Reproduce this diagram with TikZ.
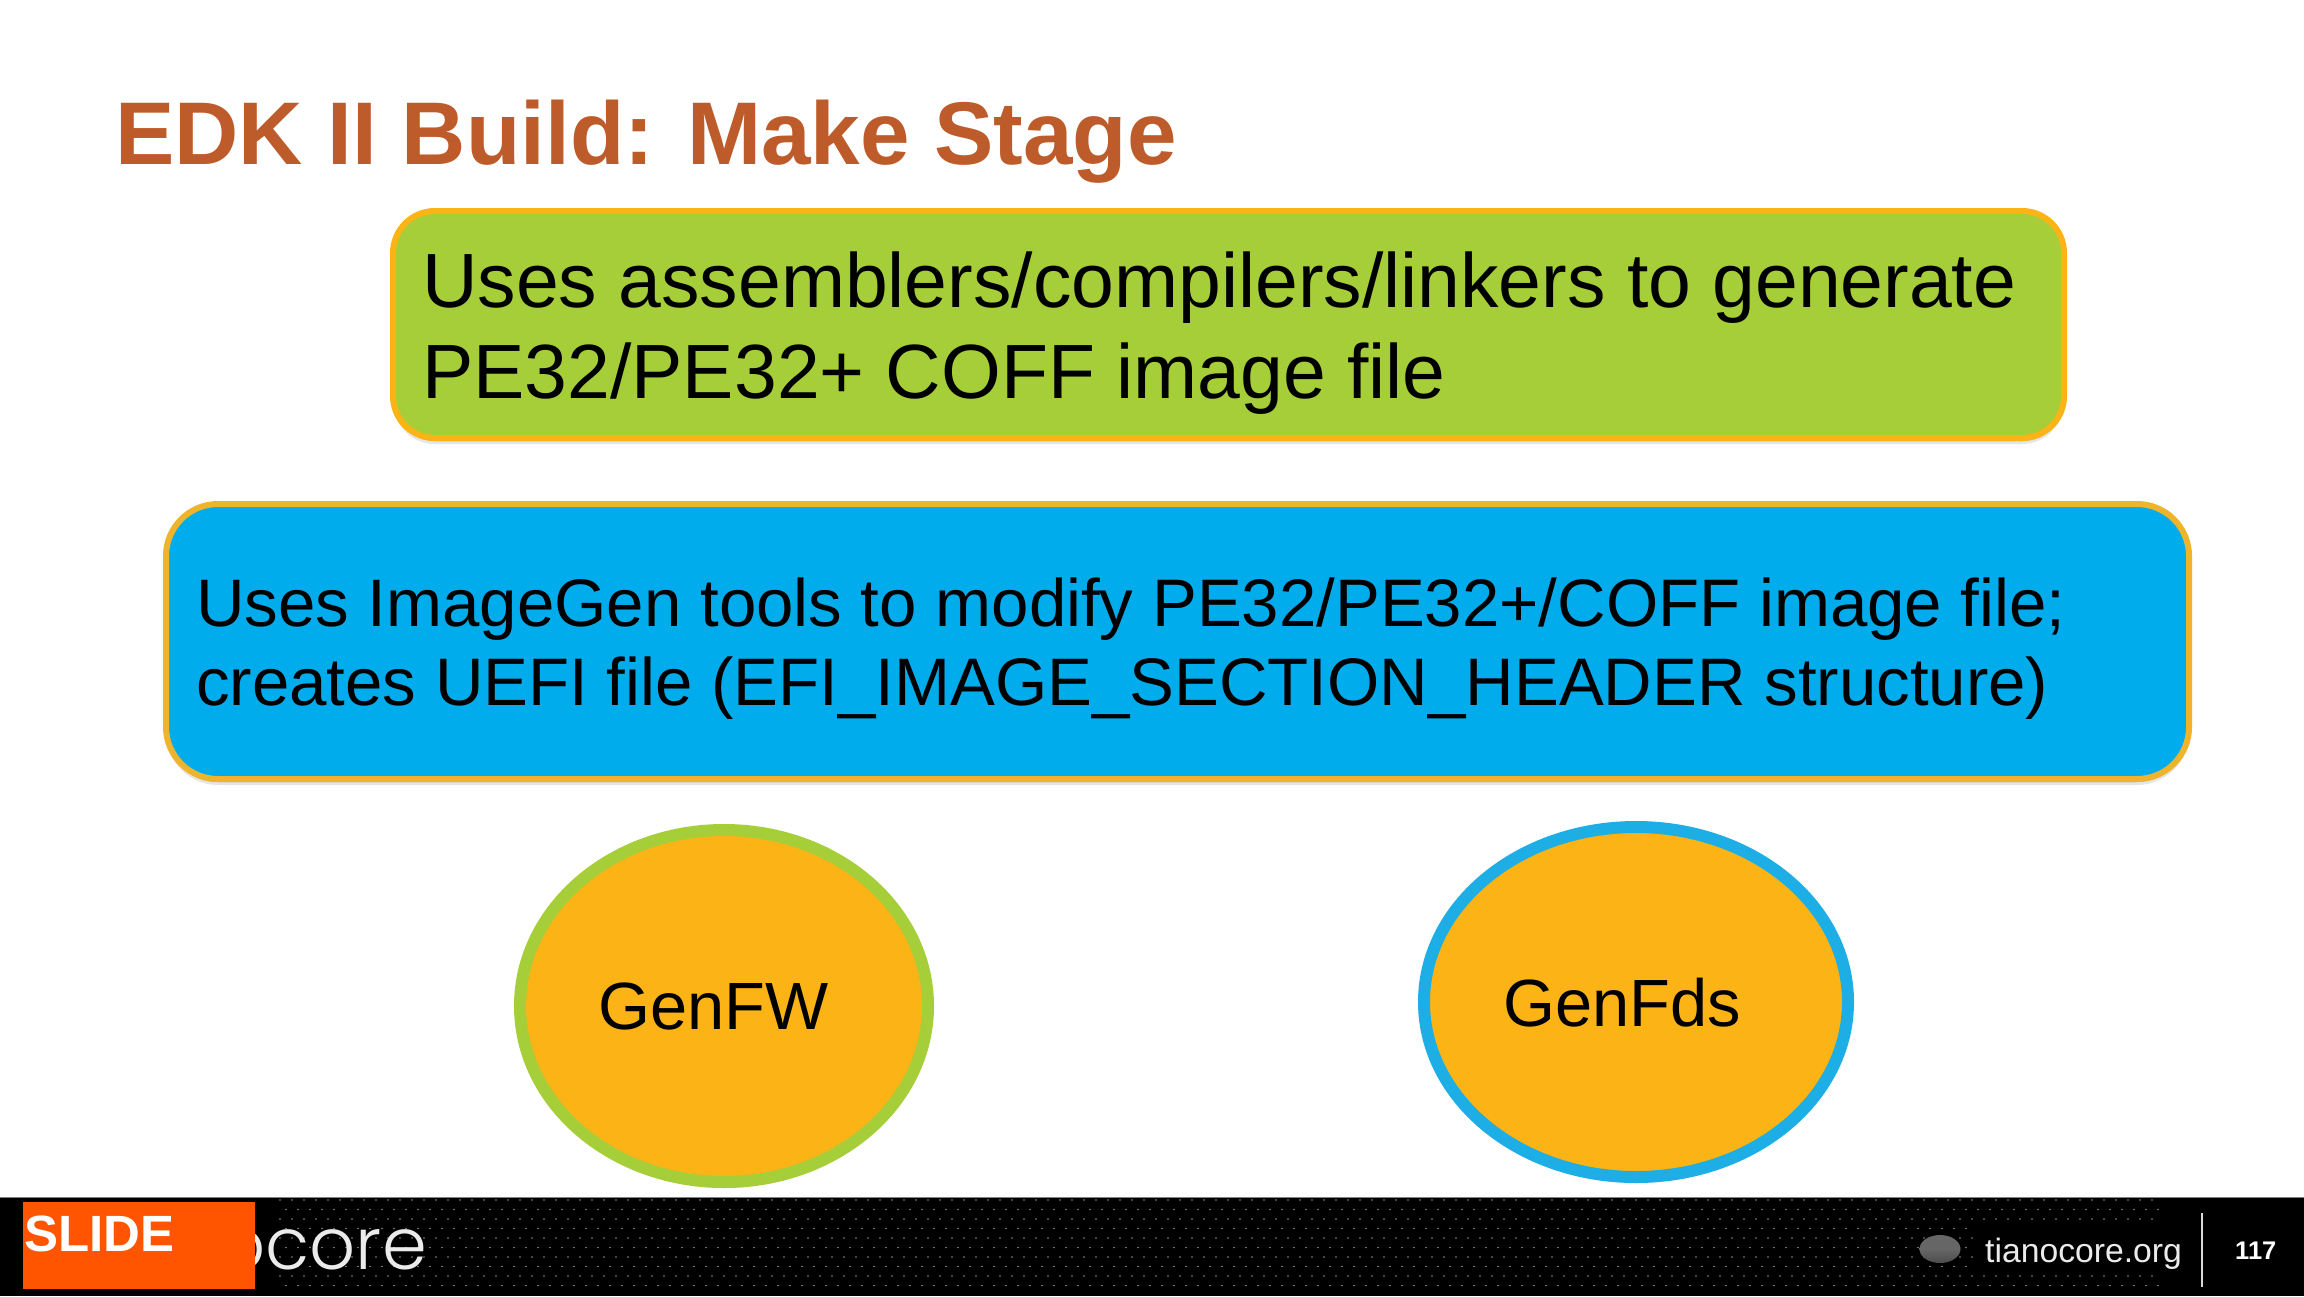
\documentclass[tikz,border=0pt]{standalone}
\usepackage{fontspec}
\usetikzlibrary{shapes.geometric,shadows}
\setmainfont{Liberation Sans}
\newfontfamily\logofont{Poppins Light}
\definecolor{titlecol}{HTML}{BE5B2A}
\definecolor{greenfill}{HTML}{A6CE39}
\definecolor{bluefill}{HTML}{00ACEC}
\definecolor{ambercol}{HTML}{FBB316}
\definecolor{goldedge}{HTML}{EDB42C}
\definecolor{ellipseblue}{HTML}{1CAEE4}
\definecolor{slidecol}{HTML}{FF5500}
\definecolor{dotcol}{HTML}{8A8A8A}
\tikzset{
  softshadow/.style={general shadow={shadow xshift=0pt,shadow yshift=-6pt,opacity=.10,fill=black},
                     general shadow={shadow xshift=0pt,shadow yshift=-3pt,opacity=.25,fill=black}},
  roundbox/.style={shape=rectangle,rounded corners=#1,inner sep=0pt,line width=6pt,softshadow},
  orb/.style={shape=ellipse,inner sep=0pt,fill=ambercol,line width=12pt,softshadow},
  boxtext/.style={inner sep=0pt,align=left,anchor=base west,text=black},
  label/.style={inner sep=0pt,anchor=base west},
}
\begin{document}
\begin{tikzpicture}[x=1pt,y=-1pt]
\useasboundingbox (0,0) rectangle (2304,1296);
\fill[white] (0,0) rectangle (2304,1296);
% title
\node[label,text=titlecol,font={\fontsize{89}{94}\selectfont\bfseries}] (title) at (115,164) {EDK II Build: Make Stage};
% green box
\node[roundbox=42pt,fill=greenfill,draw=ambercol,minimum width=1671pt,minimum height=227pt] (greenbox) at (1228.5,324.5) {};
\node[boxtext,font={\fontsize{76.9}{91}\selectfont}] (greentext) at (422,398)
  {Uses assemblers/compilers/linkers to generate\\PE32/PE32+ COFF image file};
% blue box
\node[roundbox=52pt,fill=bluefill,draw=goldedge,minimum width=2023pt,minimum height=275pt] (bluebox) at (1177.5,641.5) {};
\node[boxtext,font={\fontsize{67.2}{79}\selectfont}] (bluetext) at (196,705)
  {Uses ImageGen tools to modify PE32/PE32+/COFF image file;\\creates UEFI file (EFI\_IMAGE\_SECTION\_HEADER structure)};
% ellipses
\node[orb,draw=greenfill,minimum width=408pt,minimum height=352pt] (fw) at (724,1006) {};
\node[label,font={\fontsize{66.8}{70}\selectfont}] (fwtext) at (598,1029) {GenFW};
\node[orb,draw=ellipseblue,minimum width=424pt,minimum height=350pt] (fds) at (1636,1002) {};
\node[label,font={\fontsize{66.8}{70}\selectfont}] (fdstext) at (1503,1026) {GenFds};
% footer
\fill[black] (0,1197) rectangle (2304,1296);
\draw[gray,line width=1pt] (0,1197) -- (2304,1197);
\foreach \r in {0,...,9}{
  \pgfmathsetmacro{\yy}{1200+\r*9.5}
  \pgfmathsetmacro{\xo}{mod(\r,2)*6}
  \foreach \c in {0,...,156}{
    \fill[dotcol] ({280+\xo+\c*12},\yy) circle (.9pt);
  }
}
\fill[black] (2190,1198) rectangle (2304,1296);
\fill[black] (1975,1225) rectangle (2192,1275);
\node[inner sep=0pt,anchor=base east,text=white!92!black,font={\logofont\fontsize{72}{76}\selectfont}] (logo) at (427,1269) {ocore};
\node[shape=rectangle,fill=slidecol,inner sep=0pt,minimum width=232pt,minimum height=87pt] (slidebox) at (139,1245) {};
\node[label,text=white,font={\fontsize{51}{54}\selectfont\bfseries}] (slide) at (24,1251) {SLIDE};
\node[shape=ellipse,inner sep=0pt,minimum width=41pt,minimum height=28pt,top color=gray!80!black,bottom color=black!70,middle color=black!60] (orbdark) at (1940,1249) {};
\node[label,text=white!92!black,font={\fontsize{33.7}{40}\selectfont}] (site) at (1985,1262) {tianocore.org};
\coordinate (sepa) at (2202,1213);
\coordinate (sepb) at (2202,1287);
\draw[white!85!black,line width=1.5pt] (sepa) -- (sepb);
\node[label,text=white,font={\fontsize{25.5}{30}\selectfont\bfseries}] (page) at (2235,1259) {117};
\end{tikzpicture}
\end{document}
